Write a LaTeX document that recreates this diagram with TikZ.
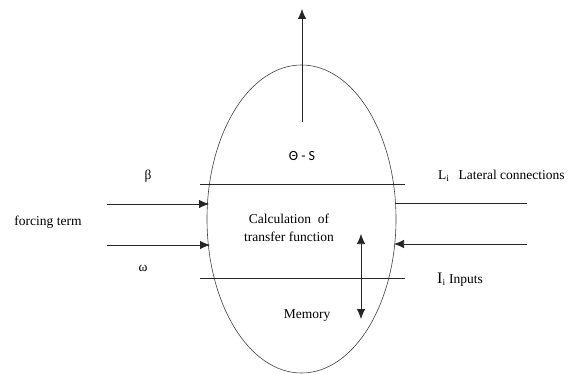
\documentclass[tikz,border=0pt]{standalone}
\usepackage{fontspec}
\setmainfont{Liberation Serif}
\newfontfamily\cfont{Carlito}
\usepackage{xcolor}
\usepackage{tikz}
\usetikzlibrary{arrows.meta,shapes.geometric}

\begin{document}
\begin{tikzpicture}[x=1pt,y=-1pt,
    line/.style={draw=black!85, line width=0.75pt},
    tip/.tip={Latex[length=10pt,width=8.5pt]},
    arr/.style={line, -tip},
    lbl/.style={font=\fontsize{13.5}{15}\selectfont, inner sep=0pt}]
    \useasboundingbox (0,0) rectangle (578,374);

    % the cell
    \node[ellipse, draw=black!75, line width=0.6pt, minimum width=189pt,
      minimum height=308pt, inner sep=0pt] (cell) at (301.5,219) {};

    % layers
    \coordinate (upL) at (200,184);  \coordinate (upR) at (405,184);
    \coordinate (loL) at (200,278);  \coordinate (loR) at (405,278);
    \draw[line] (upL) -- (upR);
    \draw[line] (loL) -- (loR);

    % output
    \coordinate (outA) at (302,122); \coordinate (outB) at (302,9);
    \draw[arr] (outA) -- (outB);

    % left inputs
    \coordinate (betaS) at (107,204); \coordinate (betaE) at (209,204);
    \coordinate (omS) at (107,245);   \coordinate (omE) at (210,245);
    \draw[arr] (betaS) -- (betaE);
    \draw[arr] (omS) -- (omE);

    % right side
    \coordinate (latS) at (395,203); \coordinate (latE) at (527,203);
    \coordinate (inS) at (527,244);  \coordinate (inE) at (394,244);
    \draw[line] (latS) -- (latE);
    \draw[arr] (inS) -- (inE);

    % memory
    \coordinate (memA) at (361,234); \coordinate (memB) at (361,319);
    \draw[line, tip-tip] (memA) -- (memB);

    \node[lbl] (beta) at (148,176) {β};
    \node[lbl] (omega) at (143,268) {ω};
    \node[lbl] (forcing) at (48,222) {forcing term};
    \node[lbl, anchor=west] (lateral) at (438,176) {L\textsubscript{i}\hspace{9pt}Lateral connections};
    \node[lbl, anchor=west] (inputs) at (437,280) {{\fontsize{16}{17}\selectfont I}\textsubscript{i} Inputs};
    \node[lbl, font=\cfont\fontsize{14}{15}\selectfont] (theta) at (302,156) {Θ - S};
    \node[lbl, align=center] (calc) at (289,228) {Calculation\ \ of\\[3pt] transfer function};
    \node[lbl] (memory) at (307,316) {Memory};
  \end{tikzpicture}
\end{document}
